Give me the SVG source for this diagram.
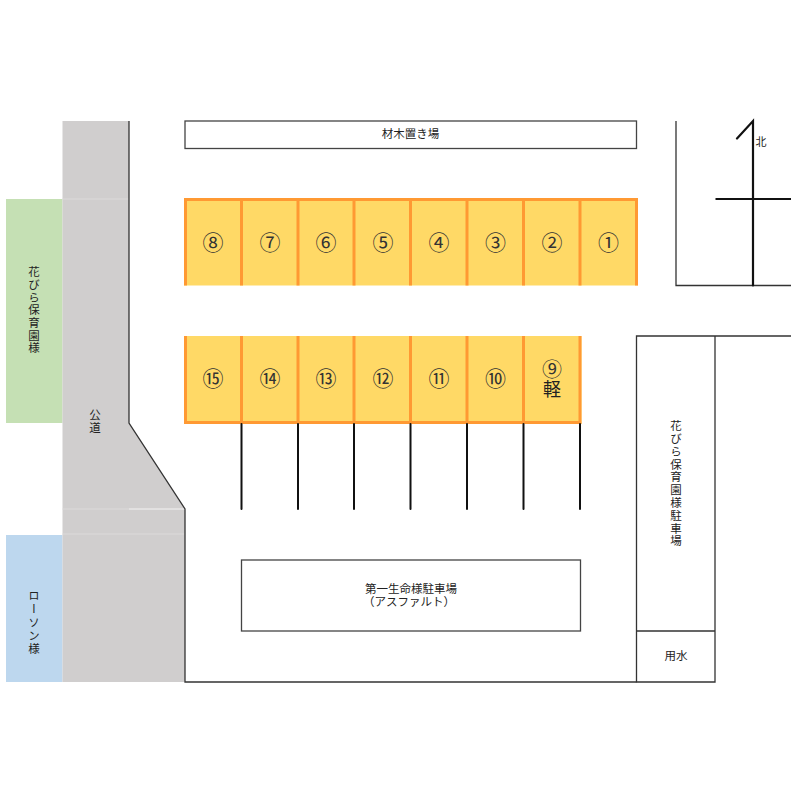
<svg xmlns="http://www.w3.org/2000/svg" width="800" height="800" viewBox="0 0 800 800">
<style>
text{font-family:"Noto Sans CJK JP","Noto Sans",sans-serif;fill:#222;font-size:11.500px;text-anchor:middle}
.v{writing-mode:vertical-rl;letter-spacing:1.200px;text-anchor:start}
.n{font-size:21px;fill:#333}
.box{fill:#fff;stroke:#444;stroke-width:1.300}
.slot{fill:#ffd966}
.edge{stroke:#ff9933;stroke-width:3;fill:none}
.ln{stroke:#333;stroke-width:1.300;fill:none}
.bk{stroke:#111;stroke-width:2;fill:none;stroke-linecap:round}
.seam{stroke:#dcdada;stroke-width:1;fill:none}
</style>
<rect width="800" height="800" fill="#fff"/>
<g id="hanabira-west"><rect x="6" y="199" width="56.500" height="224" fill="#c5e0b4"/><text class="v" x="34" y="266">花びら保育園様</text></g>
<g id="lawson"><rect x="6" y="535" width="56.500" height="147" fill="#bdd7ee"/><text class="v" x="34" y="590" style="letter-spacing:1.700px">ローソン様</text></g>
<g id="road"><path d="M62.500 121H129V423L185 509V682H62.500Z" fill="#d0cece"/><path class="seam" d="M62.500 199H129M62.500 509H185M62.500 534H185"/><path d="M129 509H185" stroke="#eeeded" stroke-width="1" fill="none"/><text class="v" x="95" y="409">公道</text></g>
<g id="storage"><rect class="box" x="185" y="121" width="451.500" height="27.500"/><text x="410.500" y="138">材木置き場</text></g>
<g id="row-top">
<rect class="slot" x="184" y="198" width="454" height="87.500"/>
<path class="edge" d="M185.500 285.500V199.500H636.500V285.500M241.500 199V285.500M298 199V285.500M354 199V285.500M410.500 199V285.500M467 199V285.500M523.500 199V285.500M580 199V285.500"/>
<text class="n" x="213" y="250">⑧</text><text class="n" x="270" y="250">⑦</text><text class="n" x="326" y="250">⑥</text><text class="n" x="383" y="250">⑤</text><text class="n" x="439" y="250">④</text><text class="n" x="495.500" y="250">③</text><text class="n" x="552" y="250">②</text><text class="n" x="608.500" y="250">①</text>
</g>
<g id="row-bottom">
<rect class="slot" x="184" y="336" width="397.500" height="88"/>
<path class="edge" d="M185.500 336V422.500H580V336M241.500 336V422.500M298 336V422.500M354 336V422.500M410.500 336V422.500M467 336V422.500M523.500 336V422.500"/>
<text class="n" x="213" y="386">⑮</text><text class="n" x="270" y="386">⑭</text><text class="n" x="326" y="386">⑬</text><text class="n" x="383" y="386">⑫</text><text class="n" x="439" y="386">⑪</text><text class="n" x="495.500" y="386">⑩</text><text class="n" x="552" y="377" style="font-size:20px">⑨</text><text class="n" x="552" y="396" style="font-size:18px;fill:#222">軽</text>
</g>
<g id="connectors">
<path class="ln" d="M129 121V423L185 509V682H636.500"/>
<path class="bk" d="M241.500 424V509M298 424V509M354 424V509M410.500 424V509M467 424V509M523.500 424V509M580 424V509"/>
<path class="ln" d="M676 121V285.500H791"/>
<path class="ln" d="M791 336H636.500V682H715V336M636.500 631H715"/>
<path class="bk" d="M753 285.500V121L737 138.500" style="stroke-width:2.200"/>
<path class="bk" d="M715.500 199H791" style="stroke-linecap:butt"/>
</g>
<g id="north"><text x="761" y="146" style="font-size:11px">北</text></g>
<g id="asphalt"><rect class="box" x="241.500" y="560" width="339" height="71"/><text x="411" y="592.500">第一生命様駐車場</text><text x="409" y="606">（アスファルト）</text></g>
<g id="hanabira-lot"><text class="v" x="676" y="420" style="letter-spacing:1.300px">花びら保育園様駐車場</text></g>
<g id="canal"><text x="676" y="660">用水</text></g>
</svg>
